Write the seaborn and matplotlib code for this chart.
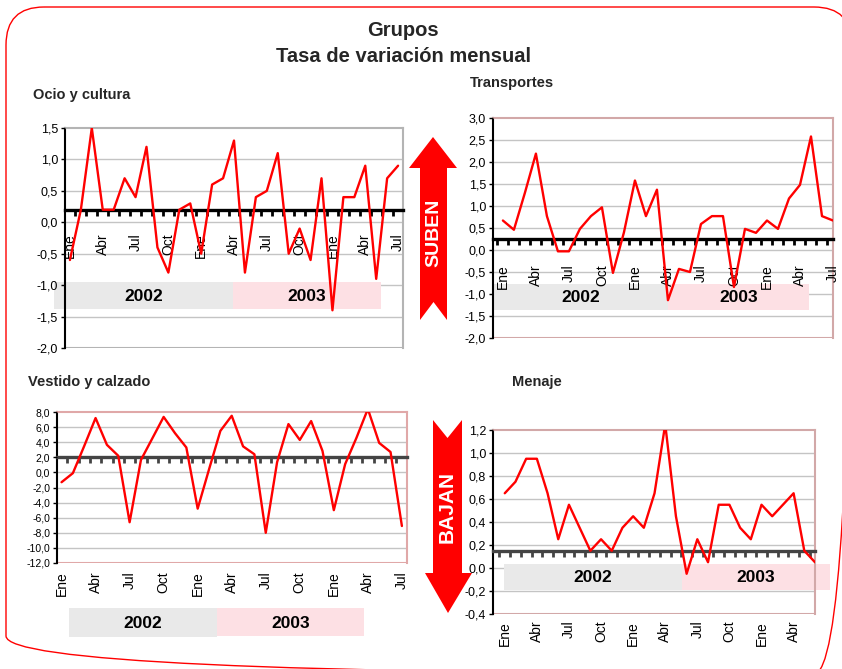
import matplotlib
matplotlib.use('Agg')
import matplotlib.pyplot as plt
import matplotlib.transforms as mtransforms
from matplotlib.patches import Rectangle, Polygon, FancyBboxPatch
from matplotlib.ticker import FixedLocator
import numpy as np
import pandas as pd
import seaborn as sns

sns.set_theme(style='white')
plt.rcParams['font.family'] = ['Liberation Sans', 'DejaVu Sans']

W, H = 842, 669

# month labels every 3 months, starting Ene 2002
month_cycle = ['Ene', 'Abr', 'Jul', 'Oct']
years = ['2002', '2003']

ocio = [-0.6, 0.2, 1.5, 0.2, 0.2, 0.7, 0.4, 1.2, -0.4, -0.8, 0.2, 0.3, -0.5, 0.6, 0.7, 1.3,
        -0.8, 0.4, 0.5, 1.1, -0.5, -0.1, -0.6, 0.7, -1.4, 0.4, 0.4, 0.9, -0.9, 0.7, 0.9]
transportes = [0.67, 0.46, 1.3, 2.19, 0.77, -0.03, -0.03, 0.48, 0.77, 0.97, -0.52, 0.4, 1.58, 0.77,
               1.37, -1.14, -0.43, -0.5, 0.59, 0.77, 0.77, -0.84, 0.48, 0.39, 0.67, 0.48, 1.17,
               1.48, 2.58, 0.77, 0.67]
vestido = [-1.3, -0.1, 3.5, 7.2, 3.65, 2.2, -6.6, 1.65, 4.5, 7.35, 5.2, 3.3, -4.8, 0.4, 5.5, 7.5,
           3.45, 2.4, -8.0, 1.35, 6.4, 4.3, 6.8, 2.85, -5.0, 1.1, 4.6, 8.4, 3.9, 2.7, -7.1]
menaje = [0.65, 0.75, 0.95, 0.95, 0.65, 0.25, 0.55, 0.35, 0.15, 0.25, 0.15, 0.35, 0.45, 0.35, 0.65,
          1.25, 0.45, -0.05, 0.25, 0.05, 0.55, 0.55, 0.35, 0.25, 0.55, 0.45, 0.55, 0.65, 0.15, 0.05]

ocio_yticks = [-2.0, -1.5, -1.0, -0.5, 0.0, 0.5, 1.0, 1.5]
transportes_yticks = [-2.0, -1.5, -1.0, -0.5, 0.0, 0.5, 1.0, 1.5, 2.0, 2.5, 3.0]
vestido_yticks = [-12.0, -10.0, -8.0, -6.0, -4.0, -2.0, 0.0, 2.0, 4.0, 6.0, 8.0]
menaje_yticks = [-0.4, -0.2, 0.0, 0.2, 0.4, 0.6, 0.8, 1.0, 1.2]


def comma(v):
    return f'{v:.1f}'.replace('.', ',')


def fig_box(x0, y0, x1, y1):
    return [x0 / W, 1 - y1 / H, (x1 - x0) / W, (y1 - y0) / H]


panels = [
    dict(title='Ocio y cultura', title_xy=(33, 95), values=ocio, yticks=ocio_yticks,
         box=(65, 128, 403, 348), xlim=(-0.45, 30.45), cross=0.2, pad_px=24,
         frame='#b4b4b4', axis_col='black', yfs=9,
         years=[(54, 233, 282, 309), (233, 381, 282, 309)]),
    dict(title='Transportes', title_xy=(470, 83), values=transportes, yticks=transportes_yticks,
         box=(493, 118, 833, 338), xlim=(-0.9, 30.0), cross=0.25, pad_px=25,
         frame='#d2a8a8', axis_col='black', yfs=9,
         years=[(494, 668, 284, 310), (668, 809, 284, 310)]),
    dict(title='Vestido y calzado', title_xy=(28, 382), values=vestido, yticks=vestido_yticks,
         box=(57, 412, 407, 563), xlim=(-0.4, 30.45), cross=2.1, pad_px=115,
         frame='#e0a8a8', axis_col='#444444', yfs=7.5,
         years=[(69, 217, 608, 637), (217, 364, 608, 636)]),
    dict(title='Menaje', title_xy=(512, 382), values=menaje, yticks=menaje_yticks,
         box=(493, 430, 815, 614), xlim=(-1.1, 29.0), cross=0.15, pad_px=70,
         frame='#d2a8a8', axis_col='#444444', yfs=9,
         years=[(504, 682, 564, 590), (682, 830, 564, 590)]),
]

fig = plt.figure(figsize=(W / 100, H / 100), dpi=100)
px = mtransforms.Affine2D().scale(1, -1).translate(0, H)  # pixel coords, y down

# rounded red border
border = FancyBboxPatch((6, 7), 846, 667, boxstyle='round,pad=0,rounding_size=38',
                        facecolor='none', edgecolor='red', linewidth=1.0, transform=px)
fig.add_artist(border)

fig.text(403 / W, 1 - 30 / H, 'Grupos', ha='center', va='center', fontsize=14.5,
         fontweight='bold')
fig.text(403 / W, 1 - 56 / H, 'Tasa de variación mensual', ha='center', va='center',
         fontsize=14.5, fontweight='bold')

for p in panels:
    ax = fig.add_axes(fig_box(*p['box']))
    ax.set_axisbelow(False)
    n = len(p['values'])
    df = pd.DataFrame({'mes': np.arange(n), 'valor': p['values']})
    sns.lineplot(data=df, x='mes', y='valor', ax=ax, color='#ff0000', linewidth=1.7, zorder=3)

    ax.set_xlim(*p['xlim'])
    ax.set_ylim(p['yticks'][0], p['yticks'][-1])
    ax.set_yticks(p['yticks'])
    ax.set_yticklabels([comma(v) for v in p['yticks']], fontsize=p['yfs'])
    # horizontal grid drawn under the year boxes, tick labels stay above them
    for v in p['yticks'][1:-1]:
        ax.axhline(v, color='#c4c4c4', linewidth=1.0, zorder=0.8)

    major = list(range(0, n, 3))
    ax.xaxis.set_major_locator(FixedLocator(major))
    ax.xaxis.set_minor_locator(FixedLocator(np.arange(-0.5, n, 1.0)))
    ax.tick_params(axis='x', which='major', length=0, pad=p['pad_px'] * 0.72, colors='black',
                   labelrotation=90, labelsize=10)
    ax.tick_params(axis='x', which='minor', bottom=True, direction='out', length=4.5,
                   width=2.0, color=p['axis_col'])
    ax.set_xticklabels([month_cycle[(i // 3) % 4] for i in major], va='top', ha='center')
    ax.tick_params(axis='y', left=True, length=3, width=1, color='black', pad=2, colors='black')
    ax.set_xlabel('')
    ax.set_ylabel('')

    ax.spines['bottom'].set_position(('data', p['cross']))
    ax.spines['bottom'].set_color(p['axis_col'])
    ax.spines['bottom'].set_linewidth(2.4)
    ax.spines['left'].set_color('black')
    ax.spines['left'].set_linewidth(1.5)
    for s in ['top', 'right']:
        ax.spines[s].set_color(p['frame'])
        ax.spines[s].set_linewidth(1.5)
    # closing frame at the bottom of the plot area
    ax.axhline(p['yticks'][0], color=p['frame'], linewidth=1.5, zorder=1)

    for (x0, x1, y0, y1), yr, col in zip(p['years'], years, ['#e9e9e9', '#fde0e4']):
        ax.add_patch(Rectangle((x0, y0), x1 - x0, y1 - y0, transform=px, facecolor=col,
                               edgecolor='none', clip_on=False, zorder=1.5))
        ax.text((x0 + x1) / 2, (y0 + y1) / 2 + 1, yr, transform=px, ha='center', va='center',
                fontsize=12.5, fontweight='bold', color='black', zorder=4, clip_on=False)

    fig.text(p['title_xy'][0] / W, 1 - p['title_xy'][1] / H, p['title'], ha='left',
             va='center', fontsize=10.5, fontweight='bold')

# up / down arrows between the columns
up = [(433, 137), (457, 168), (447, 168), (447, 320), (433.5, 302), (420, 320), (420, 168),
      (409, 168)]
down = [(433, 420), (447.5, 438), (462, 420), (462, 573), (472, 573), (448, 613), (425, 573),
        (433, 573)]
fig.add_artist(Polygon(up, closed=True, transform=px, facecolor='#ff0000', edgecolor='none'))
fig.add_artist(Polygon(down, closed=True, transform=px, facecolor='#ff0000', edgecolor='none'))
fig.text(433.5 / W, 1 - 233 / H, 'SUBEN', rotation=90, ha='center', va='center', color='white',
         fontsize=14, fontweight='bold')
fig.text(447.5 / W, 1 - 507 / H, 'BAJAN', rotation=90, ha='center', va='center', color='white',
         fontsize=15, fontweight='bold')

fig.savefig('out.png', dpi=100)
